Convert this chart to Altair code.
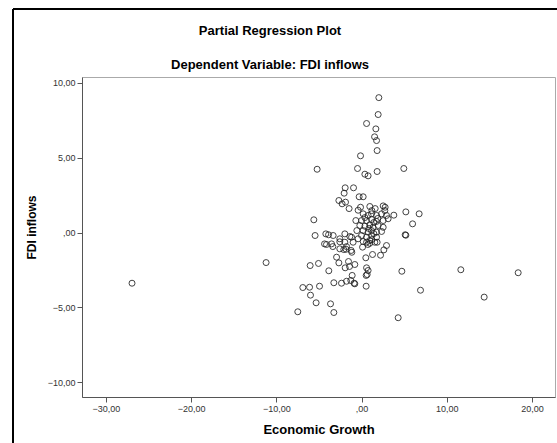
import altair as alt
import pandas as pd

growth = [
    2.03, 1.95, 0.59, 1.68, 1.53, 1.76, 1.83, -0.12, -5.21, -0.47, 0.39, 0.77, 1.83, 4.96,
    -1.92, -0.94, -2.04, -0.28, 0.19, -2.66, -2.28, -1.46, -0.12, 0.97, 1.60, 2.54, 2.77,
    3.79, 5.20, 6.76, 5.99, -5.60, -5.45, -4.19, -3.87, -4.34, -4.11, -3.37, -2.55, -1.96,
    -1.37, -1.17, -1.81, -1.22, -1.14, -11.20, -6.03, -5.05, -2.93, -2.66, -1.53, -1.41,
    -0.79, -1.92, -3.84, 0.50, 1.29, 2.23, 2.62, 2.93, 1.83, 0.12, 0.59, 0.77, 5.12, 5.20,
    4.73, -1.10, -0.87, -0.79, -3.25, -2.35, -1.76, -1.26, 0.54, 0.54, -4.93, -6.89, -6.10,
    -5.99, -5.33, -3.64, -7.48, -3.25, 4.30, 6.92, 11.65, 18.38, 14.39, -26.93, 0.66,
    -2.55, -1.76, -2.08, 0.59, 0.97,
    -1.88, -0.40, 2.73, 0.19, 0.77, 1.17, 1.76, 2.35, 2.93, 0.00, 0.59, 1.17, 1.76, 2.54,
    3.12, -0.20, 0.39, 0.97, 1.36, 1.95, 2.54, 0.19, 0.77, 1.17, 1.76, 2.35, 0.00, 0.59,
    1.17, 1.76, -0.40, 0.19, 0.97, 1.56, -0.99, -1.96, -3.33, -3.52, -2.55,
    1.21, 1.44, 0.86, 1.44, 1.21, 0.74, 1.91, 0.39, -0.55, -0.67,
]
fdi = [
    9.02, 7.89, 7.29, 6.93, 6.40, 6.15, 5.48, 5.13, 4.23, 4.28, 3.90, 3.79, 4.08, 4.28,
    2.99, 2.99, 2.63, 2.39, 2.39, 2.14, 1.92, 1.60, 1.69, 1.74, 1.60, 1.78, 1.69,
    1.16, 1.38, 1.25, 0.58, 0.85, -0.20, -0.09, -0.15, -0.76, -0.80, -0.94, -0.62, -0.09,
    -0.27, -0.31, -1.12, -1.20, -1.32, -2.01, -2.21, -2.07, -1.65, -2.03, -1.94, -2.27,
    -2.14, -2.36, -2.56, -1.69, -1.47, -1.52, -1.16, -0.87, -0.65, -0.98, -2.36, -2.54, -0.15, -0.18,
    -2.59, -2.87, -3.39, -3.43, -3.36, -3.39, -3.26, -3.21, -2.87, -3.59, -3.59, -3.68, -3.66,
    -4.19, -4.70, -4.77, -5.30, -5.35, -5.70, -3.86, -2.49, -2.69, -4.32, -3.39, -2.81,
    -1.09, -0.94, -1.14, -0.65, -0.72,
    2.03, 1.49, 1.47, 1.25, 1.14, 1.25, 1.14, 1.25, 1.14, 0.80, 0.80, 0.87, 0.74, 0.80,
    0.92, 0.47, 0.42, 0.51, 0.35, 0.47, 0.35, 0.13, 0.02, 0.13, 0.02, 0.07, -0.20, -0.31,
    -0.20, -0.31, -0.42, -0.60, -0.53, -0.65, -0.65, -0.65, -0.20, -0.76, -0.42,
    1.47, 0.67, 0.27, -0.07, -0.47, -0.80, 0.94, 1.00, 0.13, 0.80,
]

x_ticks = [-30, -20, -10, 0, 10, 20]
y_ticks = [-10, -5, 0, 5, 10]
titles = ["Partial Regression Plot", "Dependent Variable: FDI inflows"]

df = pd.DataFrame({"growth": growth, "fdi": fdi})

label_expr = "datum.value == 0 ? ',00' : replace(format(datum.value, '.2f'), '.', ',')"
FONT = "Liberation Sans"

points = alt.Chart(df).mark_point(
    shape="circle", filled=False, size=36, strokeWidth=1, color="#222", opacity=0.85
).encode(
    x=alt.X("growth:Q", title="Economic Growth",
            scale=alt.Scale(domain=[-32.8, 22.7], nice=False, zero=False),
            axis=alt.Axis(values=x_ticks, labelExpr=label_expr, grid=False,
                          titlePadding=10, titleFontSize=13)),
    y=alt.Y("fdi:Q", title="FDI inflows",
            scale=alt.Scale(domain=[-11.0, 10.4], nice=False, zero=False),
            axis=alt.Axis(values=y_ticks, labelExpr=label_expr, grid=False,
                          titlePadding=9, titleFontSize=12, titleY=150)),
)

frame_df = pd.DataFrame({"k": [0]})
left_line = alt.Chart(frame_df).mark_rule(color="black", strokeWidth=2).encode(
    x=alt.value(-69), y=alt.value(-68), y2=alt.value(372))
top_line = alt.Chart(frame_df).mark_rule(color="black", strokeWidth=2).encode(
    x=alt.value(-69), x2=alt.value(480), y=alt.value(-68))

title1 = alt.Chart(frame_df).mark_text(
    text=titles[0], font=FONT, fontSize=13, fontWeight="bold", color="black",
    align="center", baseline="alphabetic"
).encode(x=alt.value(188), y=alt.value(-42))
title2 = alt.Chart(frame_df).mark_text(
    text=titles[1], font=FONT, fontSize=13, fontWeight="bold", color="black",
    align="center", baseline="alphabetic"
).encode(x=alt.value(188), y=alt.value(-8))

chart = alt.layer(points, left_line, top_line, title1, title2).properties(
    width=473, height=320,
    autosize=alt.AutoSizeParams(type="none"),
    padding={"left": 82, "top": 77, "right": 2, "bottom": 46},
).configure_view(
    stroke="#aaa", strokeWidth=1
).configure_axis(
    labelFont=FONT, labelFontSize=9, labelColor="#333",
    titleFont=FONT, titleFontWeight="bold", titleColor="black",
    domainColor="#555", tickColor="#555", tickSize=5, labelPadding=2,
)

chart.save("out.html", embed_options={"renderer": "svg", "actions": False})
